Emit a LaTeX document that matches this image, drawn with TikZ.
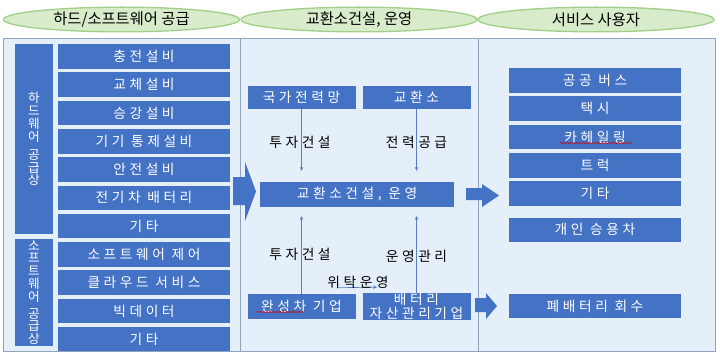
\documentclass[tikz,border=0pt]{standalone}
\usepackage{fontspec}
\setmainfont{Noto Sans CJK KR}
\newfontfamily\krbox[LetterSpace=26]{Noto Sans CJK KR}
\usetikzlibrary{shapes.geometric,positioning,calc,arrows.meta,decorations.pathmorphing}

\definecolor{boxblue}{HTML}{4472C4}
\definecolor{panelblue}{HTML}{E4EFF9}
\definecolor{framegray}{HTML}{8FA3BF}
\definecolor{hdrgreen}{HTML}{D8EBCB}
\definecolor{hdrline}{HTML}{A3CF8A}
\definecolor{linkblue}{HTML}{5A7EC2}

\begin{document}
\begin{tikzpicture}[x=0.75pt, y=-0.75pt,
  header/.style={ellipse, draw=hdrline, fill=hdrgreen, line width=1pt, minimum width=177pt, minimum height=18.5pt, inner sep=0pt, font=\fontsize{11.5}{13}\selectfont},
  item/.style={rectangle, fill=boxblue, text=white, minimum width=129pt, minimum height=18.4pt, inner sep=0pt, font=\krbox\fontsize{10.3}{12}\selectfont},
  midbox/.style={rectangle, fill=boxblue, text=white, minimum width=81pt, minimum height=18pt, inner sep=0pt, align=center, font=\krbox\fontsize{10.3}{10.3}\selectfont},
  vlabel/.style={rectangle, fill=boxblue, text=white, minimum width=28.5pt, inner sep=0pt, align=center, font=\fontsize{9.5}{9.6}\selectfont},
  note/.style={font=\krbox\fontsize{10.3}{12}\selectfont, inner sep=1pt},
  link/.style={-{Stealth[length=3pt,width=2.6pt]}, linkblue, line width=0.5pt},
  bigarrow/.style={fill=boxblue},
  spell/.style={red!85!black, line width=0.4pt, decorate, decoration={snake, amplitude=0.45pt, segment length=2.4pt}},
]
\useasboundingbox (0,0) rectangle (720,356);

% === Column headers ===
\node[header] (h1) at (121.5,19.5) {하드/소프트웨어 공급};
\node[header] (h2) at (359,19.5) {교환소건설, 운영};
\node[header] (h3) at (596,19.5) {서비스 사용자};

% === Panel ===
\draw[framegray, fill=panelblue] (3,38) rectangle (715,351);
\draw[framegray] (240,38) -- (240,351);
\draw[framegray] (478,38) -- (478,351);

% === Suppliers ===
\node[vlabel, minimum height=142.5pt] (hwsup) at (34,139) {하\\드\\웨\\어\\[4pt]공\\급\\상};
\node[vlabel, minimum height=80.25pt] (swsup) at (34,292.5) {소\\프\\트\\웨\\어\\[3pt]공\\급\\상};

\node[item] (hw1) at (144,56.5) {충전설비};
\node[item, below=2.4pt of hw1] (hw2) {교체설비};
\node[item, below=2.4pt of hw2] (hw3) {승강설비};
\node[item, below=2.4pt of hw3] (hw4) {기기 통제설비};
\node[item, below=2.4pt of hw4] (hw5) {안전설비};
\node[item, below=2.4pt of hw5] (hw6) {전기차 배터리};
\node[item, below=2.4pt of hw6] (hw7) {기타};
\node[item, below=2.4pt of hw7] (sw1) {소프트웨어 제어};
\node[item, below=2.4pt of sw1] (sw2) {클라우드 서비스};
\node[item, below=2.4pt of sw2] (sw3) {빅데이터};
\node[item, below=2.4pt of sw3] (sw4) {기타};

% === Swap station build / operation ===
\node[midbox, minimum height=17.5pt] (grid) at (301.5,97.5) {국가전력망};
\node[midbox, minimum height=17.5pt] (station) at (416.5,97.5) {교환소};
\node[midbox, minimum width=145.5pt, minimum height=19pt] (swap) at (357,194.5) {교환소건설, 운영};
\node[midbox, minimum height=18.75pt] (oem) at (301.5,306.5) {완성차 기업};
\node[midbox, minimum height=18.75pt] (bam) at (416.5,306.5) {배터리\\자산관리기업};

\draw[link, shorten >=8pt] (grid.south) -- (grid.south |- swap.north);
\draw[link, shorten >=8pt] (station.south) -- (station.south |- swap.north);
\draw[link, shorten >=6.4pt] (oem.north) -- (oem.north |- swap.south);
\draw[link, shorten >=6.4pt] (bam.north) -- (bam.north |- swap.south);
\draw[link] ($(oem.north east)+(-19,-6)$) -- ($(bam.north west)+(15,-6)$);

\node[note] (inv1) at (300,142) {투자건설};
\node[note] (supply) at (416.5,142) {전력공급};
\node[note] (inv2) at (300,254) {투자건설};
\node[note] (ops) at (416.5,256) {운영관리};
\node[note] (trust) at (358,282) {위탁운영};

% === Service users ===
\node[item] (bus) at (595,80.5) {공공 버스};
\node[item, below=2.4pt of bus] (taxi) {택시};
\node[item, below=2.4pt of taxi] (hail) {카헤일링};
\node[item, below=2.4pt of hail] (truck) {트럭};
\node[item, below=2.4pt of truck] (other) {기타};
\node[item, below=8.4pt of other] (car) {개인 승용차};
\node[item] (recycle) at (595,306) {폐배터리 회수};

% === Block arrows ===
\fill[bigarrow] (233,177) -- (245,177) -- (245,162) -- (256,191.5) -- (245,221) -- (245,205) -- (233,205) -- cycle;
\fill[bigarrow] (466,188) -- (482,188) -- (482,184) -- (499,195.5) -- (482,207) -- (482,200) -- (466,200) -- cycle;
\fill[bigarrow] (475,298) -- (486,298) -- (486,293) -- (497,306) -- (486,319) -- (486,312) -- (475,312) -- cycle;

% spell-check marks
\draw[spell] ($(hail.center)+(-35,6)$) -- ($(hail.center)+(37,6)$);
\draw[spell] ($(oem.center)+(-45,5.5)$) -- ($(oem.center)+(3,5.5)$);

\end{tikzpicture}
\end{document}
